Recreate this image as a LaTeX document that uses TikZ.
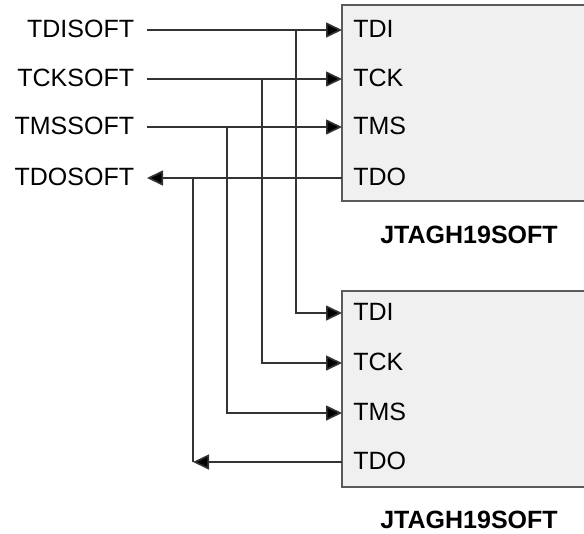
\documentclass[tikz,border=0pt]{standalone}
\usepackage{fontspec}
\setmainfont{Liberation Sans}
\usetikzlibrary{arrows.meta}
\definecolor{wirecol}{HTML}{333333}
\definecolor{boxline}{HTML}{5A5A5A}
\definecolor{boxfill}{HTML}{F0F0F0}
\begin{document}
\begin{tikzpicture}[x=0.75pt,y=-0.75pt,
  lbl/.style={font=\fontsize{18.75}{22}\selectfont, inner ysep=0pt, inner xsep=0pt, text=black},
  ext/.style={lbl, inner xsep=9.5pt},
  ttl/.style={font=\fontsize{18.75}{22}\selectfont\bfseries, inner sep=0pt, text=black},
  chip/.style={draw=boxline, fill=boxfill, line width=1.4pt, minimum width=193.5pt, minimum height=147pt, anchor=north west, inner sep=0pt, outer sep=0pt},
  wire/.style={draw=wirecol, line width=1.25pt},
  arr/.style={-{Triangle[length=12pt,width=11.25pt,fill=black]}}
]
\useasboundingbox (0,0) rectangle (584,533);
\clip (0,0) rectangle (584,533);
\fill[white] (0,0) rectangle (584,533);

% chips
\node[chip] (chipA) at (342,5) {};
\node[chip] (chipB) at (342,291) {};

% pin coordinates
\coordinate (aTDI) at (342,30);
\coordinate (aTCK) at (342,79);
\coordinate (aTMS) at (342,127);
\coordinate (aTDO) at (342,178);
\coordinate (bTDI) at (342,313);
\coordinate (bTCK) at (342,363);
\coordinate (bTMS) at (342,413);
\coordinate (bTDO) at (342,462);

% junctions
\coordinate (jTDI) at (296,30);
\coordinate (jTCK) at (262,79);
\coordinate (jTMS) at (227,127);
\coordinate (jTDO) at (193,178);
\coordinate (kTDO) at (193,462);

% pin labels
\node[lbl, anchor=base west] (laTDI) at (353,37.5) {TDI};
\node[lbl, anchor=base west] (laTCK) at (353,86.5) {TCK};
\node[lbl, anchor=base west] (laTMS) at (353,134.5) {TMS};
\node[lbl, anchor=base west] (laTDO) at (353,185.5) {TDO};
\node[lbl, anchor=base west] (lbTDI) at (353,320.5) {TDI};
\node[lbl, anchor=base west] (lbTCK) at (353,370.5) {TCK};
\node[lbl, anchor=base west] (lbTMS) at (353,420.5) {TMS};
\node[lbl, anchor=base west] (lbTDO) at (353,469.5) {TDO};

% chip titles
\node[ttl, anchor=base] (tA) at (469,243) {JTAGH19SOFT};
\node[ttl, anchor=base] (tB) at (469,528) {JTAGH19SOFT};

% external signals
\node[ext, anchor=base east] (sTDI) at (147,37.5) {TDISOFT};
\node[ext, anchor=base east] (sTCK) at (147,86.5) {TCKSOFT};
\node[ext, anchor=base east] (sTMS) at (147,134.5) {TMSSOFT};
\node[ext, anchor=base east] (sTDO) at (147,185.5) {TDOSOFT};

% wires to first chip
\draw[wire,arr] (sTDI.east |- aTDI) -- (aTDI);
\draw[wire,arr] (sTCK.east |- aTCK) -- (aTCK);
\draw[wire,arr] (sTMS.east |- aTMS) -- (aTMS);
\draw[wire,arr] (aTDO) -- (sTDO.east |- aTDO);

% branches to second chip
\draw[wire,arr] (jTDI) |- (bTDI);
\draw[wire,arr] (jTCK) |- (bTCK);
\draw[wire,arr] (jTMS) |- (bTMS);
\draw[wire] (jTDO) -- (kTDO);
\draw[wire,arr] (bTDO) -- (kTDO);
\end{tikzpicture}
\end{document}
